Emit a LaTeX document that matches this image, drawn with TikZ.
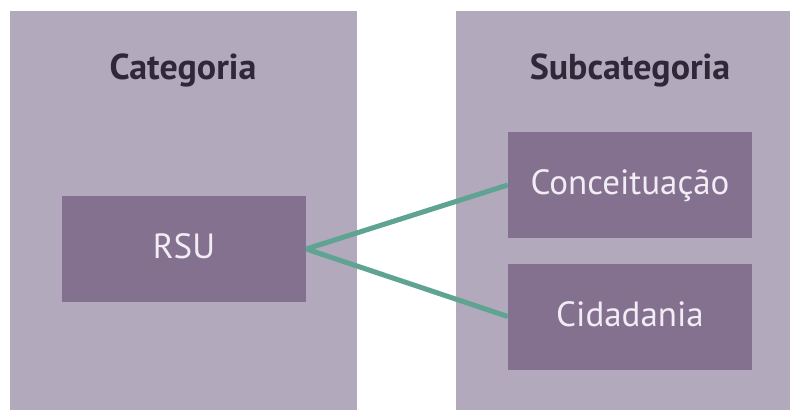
\documentclass[tikz,border=0pt]{standalone}
\usepackage{fontspec}
\setmainfont{PT Sans}
\definecolor{panelbg}{HTML}{B3A9BD}
\definecolor{boxbg}{HTML}{84718F}
\definecolor{titlefg}{HTML}{2E2838}
\definecolor{boxfg}{HTML}{F2ECF4}
\definecolor{linkc}{HTML}{5FA393}
\begin{document}
\begin{tikzpicture}[x=1pt,y=-1pt,
  panel/.style={fill=panelbg,draw=none},
  catbox/.style={fill=boxbg,draw=none,minimum width=244pt,minimum height=106pt,
    text=boxfg,font=\fontsize{35}{38}\selectfont,inner sep=0pt,
    text height=25pt,text depth=6pt},
  heading/.style={text=titlefg,font=\bfseries\fontsize{36}{40}\selectfont,inner sep=0pt,anchor=base},
  link/.style={draw=linkc,line width=5pt}]
  \useasboundingbox (0,0) rectangle (790,410);
  \fill[white] (0,0) rectangle (790,410);
  % two columns
  \path[panel] (10,11) rectangle (357,410);
  \path[panel] (456,11) rectangle (790,410);
  % headings
  \node[heading] (h1) at (183,79) {Categoria};
  \node[heading] (h2) at (630,79) {Subcategoria};
  % category and subcategories
  \node[catbox] (rsu) at (184,249) {RSU};
  \node[catbox] (conc) at (630,185) {Conceituação};
  \node[catbox] (cid) at (630,316.5) {Cidadania};
  % connectors
  \draw[link] (rsu.east) -- (conc.west);
  \draw[link] (rsu.east) -- (cid.west);
\end{tikzpicture}
\end{document}
